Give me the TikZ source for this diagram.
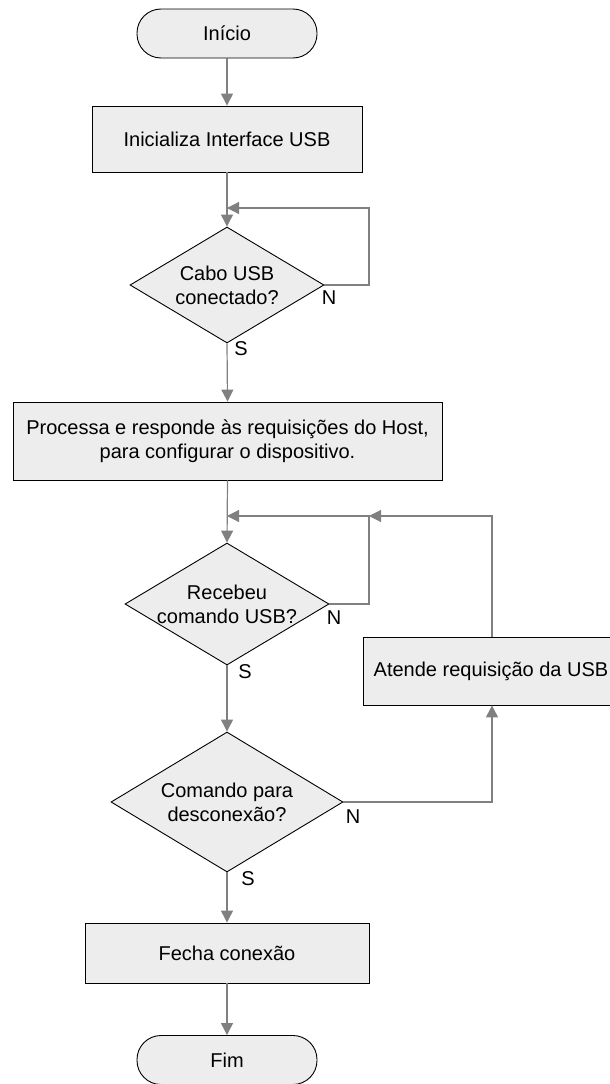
\documentclass[tikz,border=0pt]{standalone}
\usepackage{fontspec}
\setmainfont{Liberation Sans}
\usetikzlibrary{shapes.geometric,arrows.meta}
\definecolor{boxfill}{HTML}{EDEDED}
\definecolor{linegray}{HTML}{808080}
\begin{document}
\begin{tikzpicture}[x=1pt,y=-1pt,
  every node/.style={font=\fontsize{20}{24}\selectfont},
  term/.style={draw=black, fill=boxfill, rounded corners=24pt, minimum width=180pt, minimum height=49pt, inner sep=0pt, line width=0.9pt},
  proc/.style={draw=black, fill=boxfill, inner sep=0pt, line width=0.9pt, align=center},
  dec/.style={diamond, draw=black, fill=boxfill, inner sep=0pt, line width=0.9pt},
  dectext/.style={align=center, inner sep=0pt},
  flow/.style={draw=linegray, line width=1.2pt, miter limit=10, -{Triangle[length=12pt,width=12pt]}},
  conn/.style={draw=linegray, line width=1.2pt},
  lab/.style={inner sep=0pt, anchor=center}
]
\useasboundingbox (0,0) rectangle (610,1084);

\node[term] (inicio) at (227,33.5) {Início};
\node[proc, minimum width=270pt, minimum height=66pt] (init) at (227,139) {Inicializa Interface USB};
\node[dec, minimum width=194pt, minimum height=116pt,
      label={[dectext]center:Cabo USB\\conectado?}] (d1) at (227,285) {};
\node[proc, minimum width=429pt, minimum height=78pt] (proc2) at (227.5,441)
  {Processa e responde às requisições do Host,\\para configurar o dispositivo.};
\node[dec, minimum width=204pt, minimum height=122pt,
      label={[dectext]center:Recebeu\\comando USB?}] (d2) at (227,604) {};
\node[proc, minimum width=256pt, minimum height=68pt] (atende) at (491,671) {Atende requisição da USB};
\node[dec, minimum width=232pt, minimum height=140pt,
      label={[dectext]center:Comando para\\desconexão?}] (d3) at (227,802) {};
\node[proc, minimum width=284pt, minimum height=60pt] (fecha) at (227,953) {Fecha conexão};
\node[term] (fim) at (227,1060) {Fim};

\coordinate (l1a) at (369,285);
\coordinate (l1b) at (369,208);
\coordinate (l1c) at (227,208);
\coordinate (l2a) at (369,604);
\coordinate (l2b) at (369,516);
\coordinate (l2c) at (227,516);
\coordinate (l3a) at (492,516);
\coordinate (l4a) at (492,802);

\draw[flow] (inicio.south) -- (init.north);
\draw[flow] (init.south) -- (d1.north);
\draw[flow] (d1.east) -- (l1a) -- (l1b) -- (l1c);
\draw[flow] (d1.south) -- (proc2.north);
\draw[flow] (proc2.south) -- (d2.north);
\draw[flow] (d2.east) -- (l2a) -- (l2b) -- (l2c);
\draw[flow] (atende.north -| l3a) -- (l3a) -- (l2b);
\draw[flow] (d2.south) -- (d3.north);
\draw[flow] (d3.east) -- (l4a) -- (atende.south -| l4a);
\draw[flow] (d3.south) -- (fecha.north);
\draw[flow] (fecha.south) -- (fim.north);

\node[lab] (n1) at (329,298) {N};
\node[lab] (s1) at (241,349) {S};
\node[lab] (n2) at (334,618) {N};
\node[lab] (s2) at (245,672) {S};
\node[lab] (n3) at (353,817) {N};
\node[lab] (s3) at (248,879) {S};
\end{tikzpicture}
\end{document}
